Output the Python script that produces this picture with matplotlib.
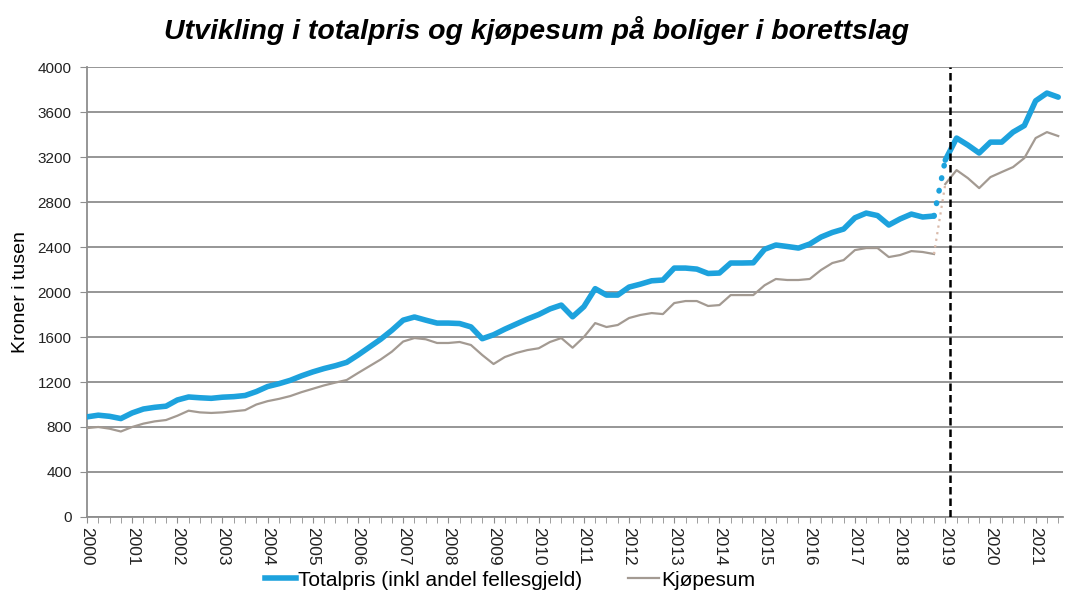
import matplotlib
matplotlib.use("Agg")
import matplotlib.pyplot as plt
from matplotlib.lines import Line2D
import numpy as np

start_year = 2000
years = list(range(2000, 2022))
totalpris = [
    890, 905, 895, 875,
    925, 960, 975, 985,
    1040, 1067, 1060, 1055,
    1065, 1070, 1080, 1115,
    1160, 1185, 1215, 1255,
    1290, 1320, 1345, 1375,
    1440, 1510, 1580, 1660,
    1750, 1778, 1750, 1724,
    1724, 1720, 1690, 1585,
    1620, 1670, 1715, 1760,
    1800, 1850, 1884, 1780,
    1870, 2030, 1973, 1973,
    2044, 2070, 2100, 2107,
    2213, 2213, 2204, 2165,
    2169, 2258, 2258, 2260,
    2380, 2418, 2405, 2391,
    2427, 2489, 2530, 2560,
    2660, 2702, 2680, 2596,
    2650, 2693, 2667, 2676,
    3173, 3369, 3307, 3236,
    3333, 3333, 3422, 3480,
    3700, 3769, 3733,
]
kjopesum = [
    790, 800, 785, 760,
    800, 830, 850, 862,
    900, 945, 930, 925,
    930, 940, 950, 1000,
    1030, 1050, 1075, 1110,
    1140, 1170, 1195, 1218,
    1280, 1340, 1400, 1470,
    1560, 1591, 1580, 1547,
    1547, 1556, 1529, 1440,
    1360, 1422, 1458, 1484,
    1500, 1556, 1591, 1505,
    1600, 1724, 1689, 1707,
    1769, 1796, 1813, 1804,
    1902, 1920, 1920, 1876,
    1884, 1973, 1973, 1973,
    2060, 2116, 2107, 2107,
    2116, 2196, 2258, 2284,
    2373, 2391, 2391, 2311,
    2329, 2364, 2356, 2338,
    2960, 3084, 3013, 2924,
    3022, 3067, 3111, 3191,
    3369, 3422, 3387,
]
break_index = 76          # first quarter of the new series (2019 Q1)
break_line_x = 2019.1
yticks = list(range(0, 4001, 400))

title = "Utvikling i totalpris og kjøpesum på boliger i borettslag"
ylabel = "Kroner i tusen"
label_total = "Totalpris (inkl andel fellesgjeld)"
label_kjop = "Kjøpesum"

blue = "#1DA2DD"
grey = "#A39A92"
dot_grey = "#D9B9A9"
grid_c = "#8E8E8E"

plt.rcParams["font.family"] = ["Liberation Sans", "DejaVu Sans"]

x = start_year + np.arange(len(totalpris)) / 4.0
tp = np.array(totalpris, dtype=float)
kj = np.array(kjopesum, dtype=float)
b = break_index

fig = plt.figure(figsize=(10.67, 6.10), dpi=100)
ax = fig.add_axes([0.0815, 0.1525, 0.9145, 0.7375])

ax.set_ylim(0, 4000)
ax.set_xlim(2000, 2021.6)
ax.set_yticks(yticks)
ax.set_yticklabels([str(v) for v in yticks], fontsize=11, color="#222222")
ax.yaxis.grid(True, color=grid_c, linewidth=1.3)
ax.set_axisbelow(True)

ax.set_xticks(years)
ax.set_xticklabels([str(y) for y in years], rotation=-90, fontsize=12.5, color="#222222")
ax.set_xticks(start_year + np.arange(0, 87) / 4.0, minor=True)
ax.tick_params(axis="x", which="both", length=4, color=grid_c, direction="out", pad=3)
ax.tick_params(axis="y", which="both", length=5, color=grid_c, direction="out", pad=6)

for s in ["top", "right"]:
    ax.spines[s].set_visible(False)
for s in ["left", "bottom"]:
    ax.spines[s].set_color(grid_c)
    ax.spines[s].set_linewidth(1.3)

# kjøpesum
ax.plot(x[:b], kj[:b], color=grey, lw=1.6, zorder=3)
ax.plot(x[b - 1:b + 1], kj[b - 1:b + 1], color=dot_grey, lw=1.6, ls=(0, (1, 2)), zorder=3)
ax.plot(x[b:], kj[b:], color=grey, lw=1.6, zorder=3)

# totalpris
ax.plot(x[:b], tp[:b], color=blue, lw=4.0, zorder=4, solid_capstyle="round")
ax.plot(x[b - 1:b + 1], tp[b - 1:b + 1], color=blue, lw=4.0, ls=(0, (0.1, 2.2)),
        dash_capstyle="round", zorder=4)
ax.plot(x[b:], tp[b:], color=blue, lw=4.0, zorder=4, solid_capstyle="round")

ax.axvline(break_line_x, color="black", lw=1.8, ls=(0, (3, 1.6)), zorder=5)

ax.set_ylabel(ylabel, fontsize=14, labelpad=6)

fig.text(0.503, 0.950, title, ha="center", va="center", fontsize=20.5,
         fontweight="bold", fontstyle="italic")

handles = [Line2D([], [], color=blue, lw=4.0), Line2D([], [], color=grey, lw=1.6)]
fig.legend(handles, [label_total, label_kjop], loc="center", bbox_to_anchor=(0.478, 0.049),
           ncol=2, frameon=False, fontsize=15, handlelength=1.5, handletextpad=0.1,
           columnspacing=2.2)

fig.savefig("out.png", dpi=100)
